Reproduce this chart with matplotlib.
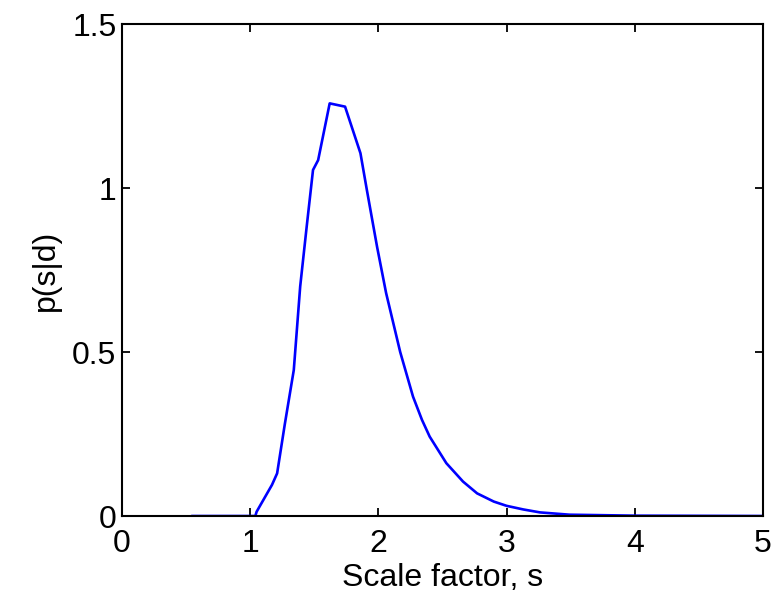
import matplotlib.pyplot as plt
from matplotlib.ticker import FuncFormatter

# posterior of the scale factor
s = [0.55, 1.04, 1.05, 1.17, 1.21, 1.27, 1.34, 1.39, 1.44, 1.49, 1.53, 1.62,
     1.74, 1.86, 1.91, 1.99, 2.06, 2.17, 2.27, 2.34, 2.40, 2.53, 2.66, 2.77,
     2.90, 3.00, 3.13, 3.26, 3.49, 4.00, 5.00]
p = [0.0, 0.0, 0.013, 0.095, 0.13, 0.28, 0.445, 0.70, 0.88, 1.055, 1.085, 1.258,
     1.248, 1.106, 0.994, 0.82, 0.68, 0.50, 0.364, 0.293, 0.242, 0.161, 0.105, 0.069,
     0.044, 0.031, 0.020, 0.011, 0.004, 0.001, 0.0]

x_ticks = [0, 1, 2, 3, 4, 5]
y_ticks = [0, 0.5, 1, 1.5]

plt.rcParams["font.family"] = ["Liberation Sans", "DejaVu Sans"]

fig = plt.figure(figsize=(7.77, 5.94), dpi=100)
ax = fig.add_axes([122 / 777, 1 - 516 / 594, (763 - 122) / 777, (516 - 24) / 594])

ax.plot(s, p, color="#0000ff", linewidth=1.9)

ax.set_xlim(0, 5)
ax.set_ylim(0, 1.5)
ax.set_xticks(x_ticks)
ax.set_yticks(y_ticks)
ax.yaxis.set_major_formatter(FuncFormatter(lambda v, pos: f"{v:g}"))
ax.tick_params(direction="in", length=6, width=1.3, labelsize=23,
               top=True, right=True)
ax.tick_params(axis="x", pad=9)
ax.tick_params(axis="y", pad=4)
for spine in ax.spines.values():
    spine.set_linewidth(1.5)

ax.set_xlabel("Scale factor, s", fontsize=23, labelpad=3)
ax.set_ylabel("p(s|d)", fontsize=23, labelpad=8)

fig.savefig("out.png", dpi=100)
